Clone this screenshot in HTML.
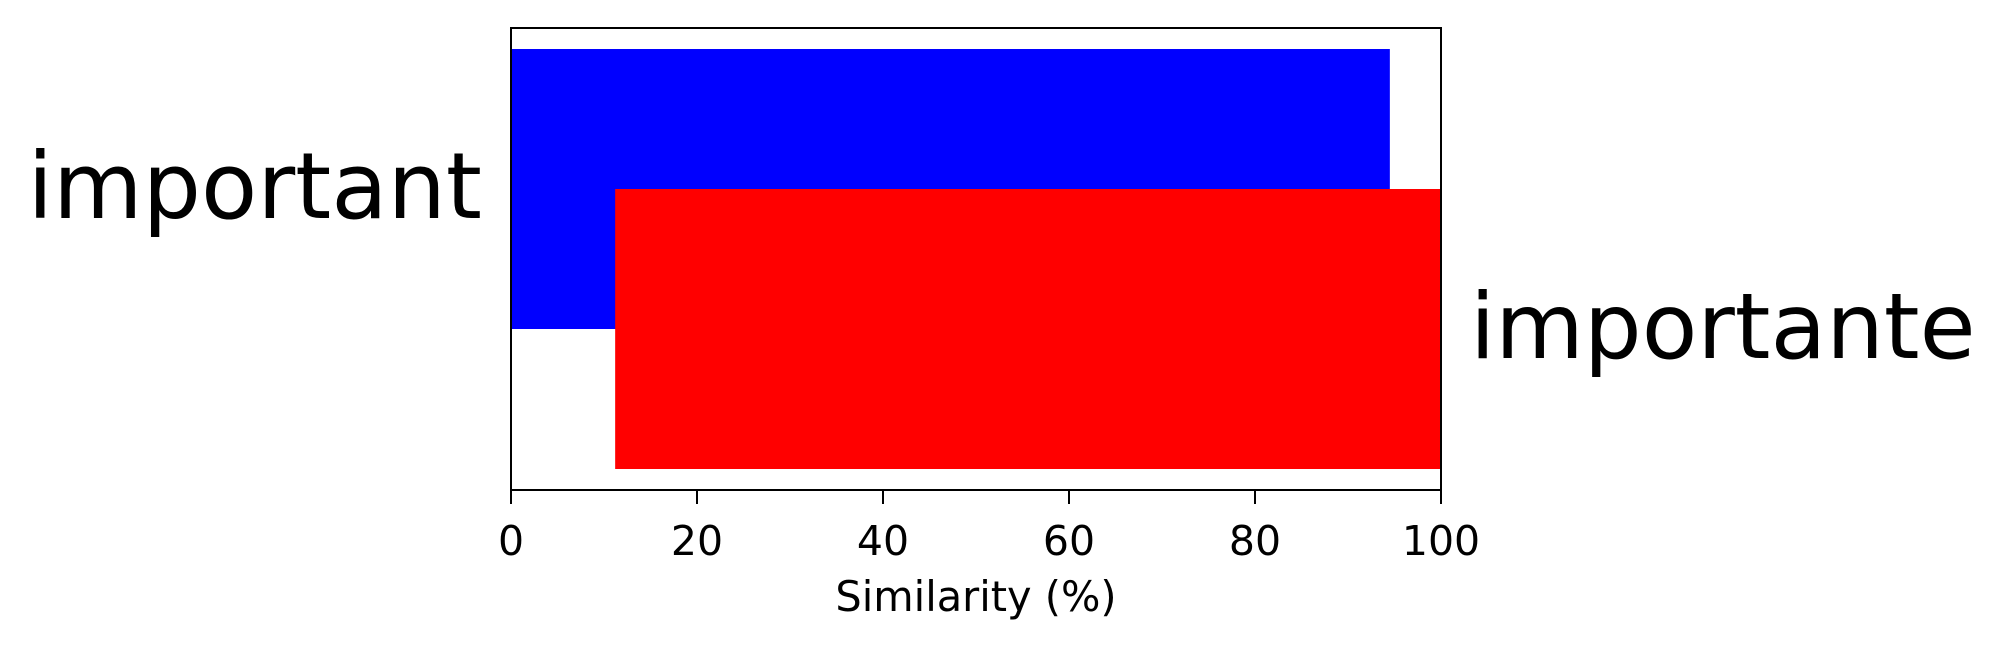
<!DOCTYPE html>
<html><head><meta charset="utf-8"><style>
html,body{margin:0;padding:0;background:#fff;}
svg{display:block;font-family:"DejaVu Sans","Liberation Sans",sans-serif;}
</style></head><body>
<svg id="chart" width="2008" height="651" viewBox="0 0 2008 651" xmlns="http://www.w3.org/2000/svg"></svg>
<script>
const categories = ["important", "importante"];
const barStart = [0, 11.2];
const barEnd = [94.5, 100];
const barPos = [1, 0];
const barColors = ["#0000ff", "#ff0000"];
const xTicks = [0, 20, 40, 60, 80, 100];
const xTickLabels = ["0", "20", "40", "60", "80", "100"];

const NS = "http://www.w3.org/2000/svg";
const svg = document.getElementById("chart");
const L = 511, R = 1441, T = 28, B = 490;
function xs(v){ return L + (v - 0) / 100 * (R - L); }
function ys(v){ return B - (v + 1.15) / 3.3 * (B - T); }
const barH = 2.0;
function mk(tag, attrs){ const e = document.createElementNS(NS, tag); for (const k in attrs) e.setAttribute(k, attrs[k]); svg.appendChild(e); return e; }

categories.forEach((c, i) => {
  const r = mk("rect", {x: xs(barStart[i]), y: ys(barPos[i] + barH/2), width: xs(barEnd[i]) - xs(barStart[i]), height: ys(barPos[i] - barH/2) - ys(barPos[i] + barH/2), fill: barColors[i]});
  
  
});

const f = mk("rect", {x: L, y: T, width: R - L, height: B - T, fill: "none", stroke: "#000", "stroke-width": 2});



xTicks.forEach((t, i) => {
  const ln = mk("line", {x1: xs(t), x2: xs(t), y1: B, y2: B + 14, stroke: "#000", "stroke-width": 2});
  
  
  const tx = mk("text", {x: xs(t), y: 555, "font-size": 41, "text-anchor": "middle", fill: "#000"});
  tx.textContent = xTickLabels[i];
  
  
});

const xl = mk("text", {x: 976, y: 611, "font-size": 41.5, "text-anchor": "middle", fill: "#000"});
xl.textContent = "Similarity (%)";



const l1 = mk("text", {x: 482, y: 218, "font-size": 92, "text-anchor": "end", fill: "#000"});
l1.textContent = categories[0];



const l2 = mk("text", {x: 1470, y: 358, "font-size": 91, "text-anchor": "start", fill: "#000"});
l2.textContent = categories[1];


</script>
</body></html>
